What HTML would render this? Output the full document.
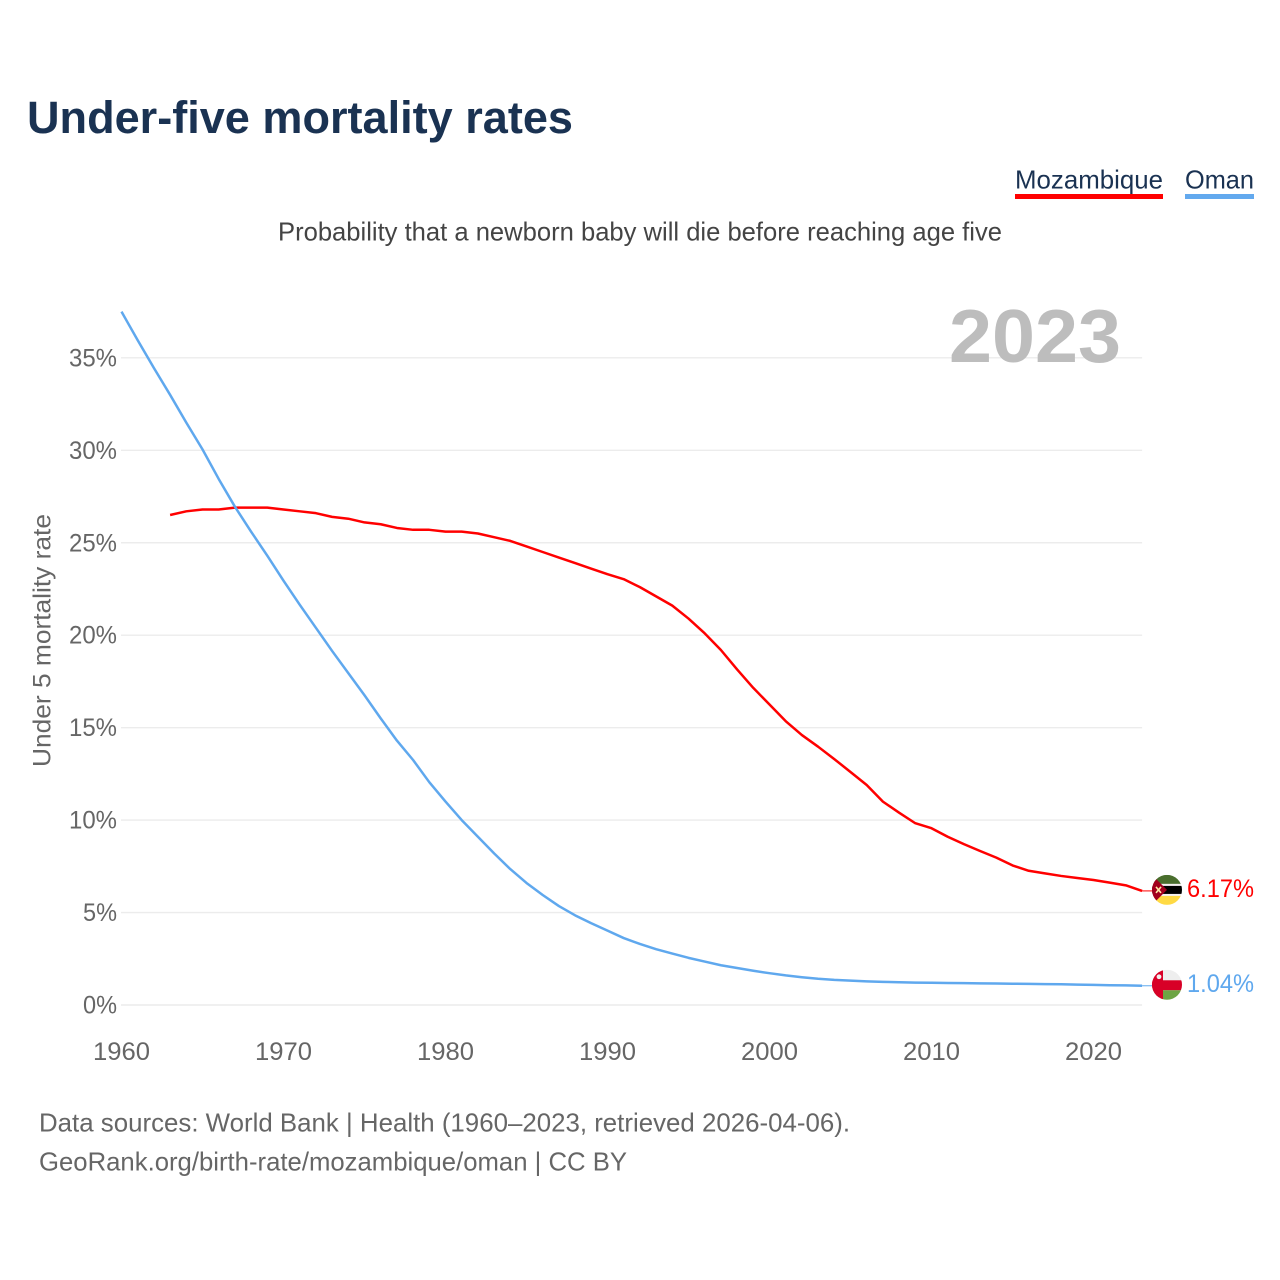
<!DOCTYPE html>
<html lang="en">
<head>
<meta charset="utf-8">
<title>Under-five mortality rates</title>
<style>
html,body{margin:0;padding:0;background:#fff;}
svg{display:block;font-family:"Liberation Sans",sans-serif;}
</style>
</head>
<body>
<svg id="chart" width="1280" height="1280" viewBox="0 0 1280 1280" xmlns="http://www.w3.org/2000/svg">
  <defs>
    <clipPath id="flag-clip"><circle cx="0" cy="0" r="15"></circle></clipPath>
  </defs>
  <rect width="1280" height="1280" fill="#ffffff"></rect>
  <text x="27" y="133" font-size="45" font-weight="700" fill="#1a3252" textLength="546" lengthAdjust="spacingAndGlyphs">Under-five mortality rates</text>
  <g>
    <text x="1015" y="188.5" font-size="26" fill="#1a3252" textLength="148" lengthAdjust="spacingAndGlyphs">Mozambique</text>
    <rect x="1015" y="194" width="148" height="5" fill="#ff0000"></rect>
  </g>
  <g>
    <text x="1185" y="188.5" font-size="26" fill="#1a3252" textLength="69" lengthAdjust="spacingAndGlyphs">Oman</text>
    <rect x="1185" y="194" width="69" height="5" fill="#63a9ee"></rect>
  </g>
  <text x="278" y="240.5" font-size="26" fill="#444444" textLength="724" lengthAdjust="spacingAndGlyphs">Probability that a newborn baby will die before reaching age five</text>
  <g id="grid"></g>
  <g id="y-ticks"></g>
  <g id="x-ticks"></g>
  <text transform="translate(50.5,767) rotate(-90)" x="0" y="0" font-size="25" fill="#666666" textLength="253" lengthAdjust="spacingAndGlyphs">Under 5 mortality rate</text>
  <text x="949" y="362" font-size="75" font-weight="700" fill="#bdbdbd" textLength="172" lengthAdjust="spacingAndGlyphs">2023</text>
  <g id="series"></g>
  <g id="flag-mozambique">
    <g clip-path="url(#flag-clip)">
      <rect x="-15" y="-15" width="30" height="9" fill="#496e2d"></rect>
      <rect x="-15" y="-6" width="30" height="12" fill="#f4f0f0"></rect>
      <rect x="-15" y="-4" width="30" height="8" fill="#000000"></rect>
      <rect x="-15" y="6" width="30" height="9" fill="#ffda44"></rect>
      <polygon points="-15,-15 0,0 -15,15" fill="#a2001d"></polygon>
      <path d="M-11,-3 L-6,3 M-6,-3 L-11,3" stroke="#ffe9a8" stroke-width="1.6"></path>
    </g>
  </g>
  <g id="flag-oman">
    <g clip-path="url(#flag-clip)">
      <rect x="-15" y="-15" width="30" height="10.5" fill="#eeeeee"></rect>
      <rect x="-15" y="-4.5" width="30" height="10" fill="#d80027"></rect>
      <rect x="-15" y="5.5" width="30" height="10" fill="#6da544"></rect>
      <rect x="-15" y="-15" width="11" height="30" fill="#d80027"></rect>
      <circle cx="-8" cy="-8" r="2.4" fill="#f0f0f0"></circle>
    </g>
  </g>
  <text x="39" y="1131.5" font-size="26" fill="#666666" textLength="811" lengthAdjust="spacingAndGlyphs">Data sources: World Bank | Health (1960–2023, retrieved 2026-04-06).</text>
  <text x="39" y="1170.5" font-size="26" fill="#666666" textLength="588" lengthAdjust="spacingAndGlyphs">GeoRank.org/birth-rate/mozambique/oman | CC BY</text>
  <script>
    const yTickValues = [0, 5, 10, 15, 20, 25, 30, 35];
    const xTickYears = [1960, 1970, 1980, 1990, 2000, 2010, 2020];
    const mozambiqueStartYear = 1963;
    const mozambiqueValues = [26.5, 26.7, 26.8, 26.8, 26.9, 26.9, 26.9, 26.8, 26.7, 26.6, 26.4, 26.3, 26.1, 26.0, 25.8, 25.7, 25.7, 25.6, 25.6, 25.5, 25.3, 25.1, 24.8, 24.5, 24.2, 23.9, 23.6, 23.3, 23.03, 22.6, 22.1, 21.6, 20.9, 20.1, 19.2, 18.15, 17.15, 16.25, 15.35, 14.6, 13.97, 13.3, 12.6, 11.9, 11.0, 10.4, 9.83, 9.56, 9.1, 8.7, 8.33, 7.97, 7.55, 7.26, 7.12, 6.98, 6.87, 6.76, 6.62, 6.47, 6.17];
    const omanStartYear = 1960;
    const omanValues = [37.5, 35.95, 34.45, 33.0, 31.5, 30.05, 28.45, 26.95, 25.6, 24.3, 22.95, 21.65, 20.4, 19.15, 17.95, 16.75, 15.5, 14.3, 13.25, 12.05, 11.0, 10.0, 9.1, 8.2, 7.35, 6.6, 5.95, 5.35, 4.85, 4.42, 4.02, 3.62, 3.3, 3.02, 2.78, 2.55, 2.35, 2.15, 2.0, 1.85, 1.72, 1.6, 1.5, 1.42, 1.36, 1.32, 1.28, 1.25, 1.23, 1.21, 1.2, 1.19, 1.18, 1.17, 1.16, 1.15, 1.14, 1.13, 1.12, 1.1, 1.09, 1.07, 1.06, 1.04];
    const mozambiqueLabel = "6.17%";
    const omanLabel = "1.04%";

    const NS = "http://www.w3.org/2000/svg";
    function xScale(year) { return 121.5 + (year - 1960) * 16.2; }
    function yScale(value) { return 1005 - value * 18.49; }

    const gridGroup = document.getElementById("grid");
    const yTickGroup = document.getElementById("y-ticks");
    const xTickGroup = document.getElementById("x-ticks");
    const seriesGroup = document.getElementById("series");

    yTickValues.forEach(function (value) {
      const line = document.createElementNS(NS, "line");
      
      
      line.setAttribute("x1", 121);
      line.setAttribute("x2", xScale(2023));
      line.setAttribute("y1", yScale(value));
      line.setAttribute("y2", yScale(value));
      line.setAttribute("stroke", "#ececec");
      line.setAttribute("stroke-width", 1.4);
      gridGroup.appendChild(line);

      const label = document.createElementNS(NS, "text");
      
      
      label.setAttribute("x", 117);
      label.setAttribute("y", yScale(value) + 8.5);
      label.setAttribute("text-anchor", "end");
      label.setAttribute("font-size", 25);
      label.setAttribute("fill", "#666666");
      label.setAttribute("textLength", value >= 10 ? 48 : 34);
      label.setAttribute("lengthAdjust", "spacingAndGlyphs");
      label.textContent = value + "%";
      yTickGroup.appendChild(label);
    });

    xTickYears.forEach(function (year) {
      const label = document.createElementNS(NS, "text");
      
      
      label.setAttribute("x", xScale(year));
      label.setAttribute("y", 1060);
      label.setAttribute("text-anchor", "middle");
      label.setAttribute("font-size", 25);
      label.setAttribute("fill", "#666666");
      label.setAttribute("textLength", 57);
      label.setAttribute("lengthAdjust", "spacingAndGlyphs");
      label.textContent = String(year);
      xTickGroup.appendChild(label);
    });

    function linePoints(startYear, values) {
      return values.map(function (value, i) {
        return xScale(startYear + i).toFixed(2) + "," + yScale(value).toFixed(2);
      }).join(" ");
    }

    const mozambiqueLine = document.createElementNS(NS, "polyline");
    
    
    mozambiqueLine.setAttribute("points", linePoints(mozambiqueStartYear, mozambiqueValues));
    mozambiqueLine.setAttribute("fill", "none");
    mozambiqueLine.setAttribute("stroke", "#ff0000");
    mozambiqueLine.setAttribute("stroke-width", 2.5);
    mozambiqueLine.setAttribute("stroke-linejoin", "round");
    seriesGroup.appendChild(mozambiqueLine);

    const omanLine = document.createElementNS(NS, "polyline");
    
    
    omanLine.setAttribute("points", linePoints(omanStartYear, omanValues));
    omanLine.setAttribute("fill", "none");
    omanLine.setAttribute("stroke", "#5fa8ee");
    omanLine.setAttribute("stroke-width", 2.5);
    omanLine.setAttribute("stroke-linejoin", "round");
    seriesGroup.appendChild(omanLine);

    const mozambiqueLast = mozambiqueValues[mozambiqueValues.length - 1];
    const omanLast = omanValues[omanValues.length - 1];

    const mozambiqueLeader = document.createElementNS(NS, "line");
    
    
    mozambiqueLeader.setAttribute("x1", xScale(2023));
    mozambiqueLeader.setAttribute("x2", 1152);
    mozambiqueLeader.setAttribute("y1", yScale(mozambiqueLast));
    mozambiqueLeader.setAttribute("y2", yScale(mozambiqueLast));
    mozambiqueLeader.setAttribute("stroke", "#ff0000");
    mozambiqueLeader.setAttribute("stroke-width", 1);
    seriesGroup.appendChild(mozambiqueLeader);

    const omanLeader = document.createElementNS(NS, "line");
    
    
    omanLeader.setAttribute("x1", xScale(2023));
    omanLeader.setAttribute("x2", 1152);
    omanLeader.setAttribute("y1", yScale(omanLast));
    omanLeader.setAttribute("y2", yScale(omanLast));
    omanLeader.setAttribute("stroke", "#5fa8ee");
    omanLeader.setAttribute("stroke-width", 1);
    seriesGroup.appendChild(omanLeader);

    document.getElementById("flag-mozambique").setAttribute("transform", "translate(1167," + (yScale(mozambiqueLast) - 1) + ")");
    document.getElementById("flag-oman").setAttribute("transform", "translate(1167," + (yScale(omanLast) - 1) + ")");

    const mozambiqueValueLabel = document.createElementNS(NS, "text");
    
    
    mozambiqueValueLabel.setAttribute("x", 1187);
    mozambiqueValueLabel.setAttribute("y", yScale(mozambiqueLast) + 6);
    mozambiqueValueLabel.setAttribute("font-size", 25);
    mozambiqueValueLabel.setAttribute("fill", "#ff0000");
    mozambiqueValueLabel.setAttribute("textLength", 67);
    mozambiqueValueLabel.setAttribute("lengthAdjust", "spacingAndGlyphs");
    mozambiqueValueLabel.textContent = mozambiqueLabel;
    seriesGroup.appendChild(mozambiqueValueLabel);

    const omanValueLabel = document.createElementNS(NS, "text");
    
    
    omanValueLabel.setAttribute("x", 1187);
    omanValueLabel.setAttribute("y", yScale(omanLast) + 6);
    omanValueLabel.setAttribute("font-size", 25);
    omanValueLabel.setAttribute("fill", "#5fa8ee");
    omanValueLabel.setAttribute("textLength", 67);
    omanValueLabel.setAttribute("lengthAdjust", "spacingAndGlyphs");
    omanValueLabel.textContent = omanLabel;
    seriesGroup.appendChild(omanValueLabel);
  </script>
</svg>
</body>
</html>
